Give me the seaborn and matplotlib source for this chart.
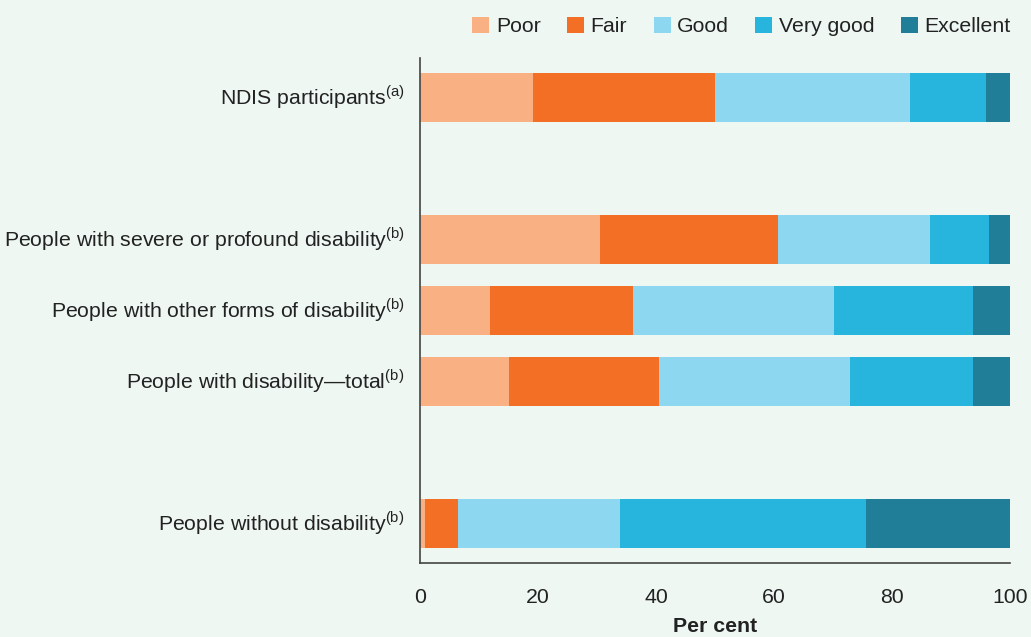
import numpy as np
import pandas as pd
import matplotlib
matplotlib.use('Agg')
import matplotlib.pyplot as plt
import seaborn as sns

# self-rated health, per cent of each group
groups = ['NDIS participants', 'People with severe or profound disability',
          'People with other forms of disability', 'People with disability\u2014total',
          'People without disability']
notes = ['(a)', '(b)', '(b)', '(b)', '(b)']
ratings = ['Poor', 'Fair', 'Good', 'Very good', 'Excellent']
poor = [19.1, 30.5, 11.8, 15.0, 0.9]
fair = [30.8, 30.1, 24.3, 25.5, 5.5]
good = [33.1, 25.7, 34.1, 32.3, 27.5]
very_good = [12.9, 10.0, 23.4, 20.9, 41.6]
excellent = [4.1, 3.7, 6.4, 6.3, 24.5]
colors = ['#F9B083', '#F36F25', '#8DD7F0', '#27B4DD', '#217E98']

# blank slots make the gaps between groups
order = ['NDIS participants', 'gap1', 'People with severe or profound disability',
         'People with other forms of disability', 'People with disability\u2014total',
         'gap2', 'People without disability']

df = pd.DataFrame({'group': groups, 'Poor': poor, 'Fair': fair, 'Good': good,
                   'Very good': very_good, 'Excellent': excellent})
cum = df[ratings].cumsum(axis=1)
cum['group'] = df['group']

sns.set_style('white')
plt.rcParams['font.family'] = ['Liberation Sans', 'DejaVu Sans']
plt.rcParams['mathtext.fontset'] = 'custom'
plt.rcParams['mathtext.rm'] = 'Liberation Sans'
bg = '#EEF7F2'
txt = '#222222'

fig = plt.figure(figsize=(10.31, 6.37), dpi=100, facecolor=bg)
ax = fig.add_axes([0.4074, 0.1162, 0.9800 - 0.4074, 0.9089 - 0.1162])
ax.set_facecolor(bg)

# draw longest (cumulative) first so shorter segments sit on top
for r, c in reversed(list(zip(ratings, colors))):
    sns.barplot(data=cum, x=r, y='group', order=order, color=c, orient='h',
                width=0.69, linewidth=0, saturation=1, ax=ax, label=r)

ax.set_xlim(0, 100)
ax.set_ylim(6.556, -0.556)
ax.set_xticks([0, 20, 40, 60, 80, 100])
ax.set_yticks([])
# group labels with footnote markers, baseline-aligned so the superscript
# does not pull the text off the bar centre
for i, o in enumerate(order):
    if o in groups:
        lab = o + '$^{\\mathregular{' + notes[groups.index(o)] + '}}$'
        ax.text(-0.026, i + 0.105, lab, transform=ax.get_yaxis_transform(),
                ha='right', va='baseline', fontsize=15.3, color=txt)
ax.tick_params(axis='x', length=8, width=1.2, color='#444444', labelsize=15.3,
               labelcolor=txt, pad=10, direction='out')
ax.set_ylabel('')
ax.set_xlabel('Per cent', fontsize=15.3, fontweight='bold', color=txt, labelpad=7)

sns.despine(ax=ax)
for s in ['left', 'bottom']:
    ax.spines[s].set_color('#444444')
    ax.spines[s].set_linewidth(1.2)

handles, labels = ax.get_legend_handles_labels()
h = dict(zip(labels, handles))
leg = ax.legend([h[r] for r in ratings], ratings, loc='center right',
                bbox_to_anchor=(1.0, 1.062), ncol=5, frameon=False, fontsize=15.3,
                handlelength=0.8, handleheight=0.8, handletextpad=0.3,
                columnspacing=1.25, borderaxespad=0, borderpad=0)
for t in leg.get_texts():
    t.set_color(txt)

fig.savefig('out.png', dpi=100, facecolor=bg)
